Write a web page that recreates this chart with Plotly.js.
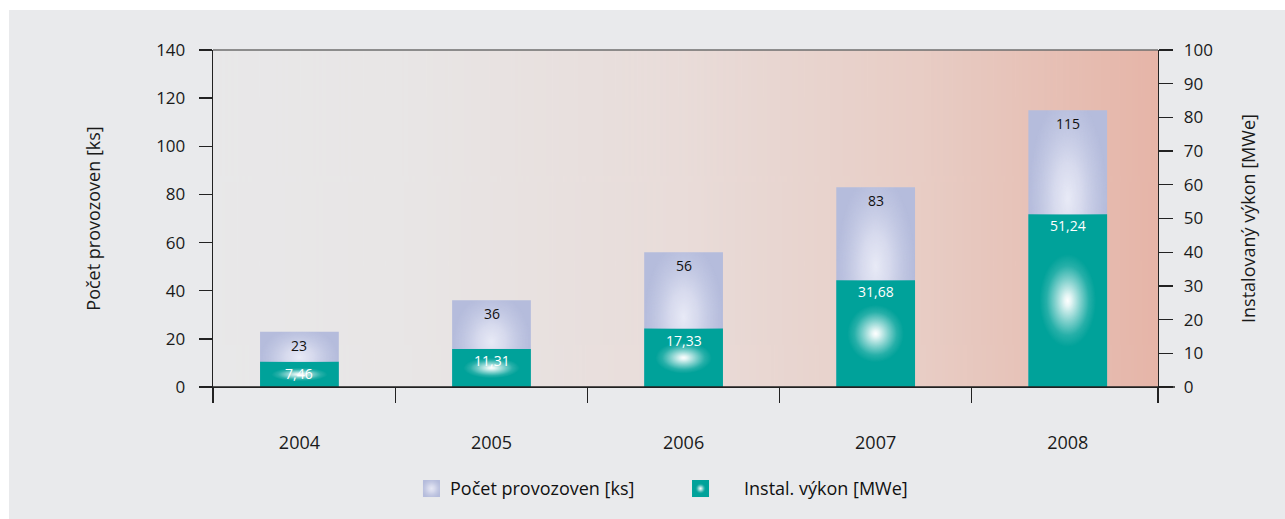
<!DOCTYPE html>
<html><head><meta charset="utf-8">
<script src="https://cdn.plot.ly/plotly-3.0.1.min.js"></script>
<style>html,body{margin:0;padding:0;background:#fff;}#chart{position:absolute;left:9px;top:10px;width:1276px;height:509px;}</style>
</head><body><div id="chart"></div>
<script>
// ---- data ----
const years = [2004, 2005, 2006, 2007, 2008];
const countValues = [23, 36, 56, 83, 115];
const powerValues = [7.46, 11.31, 17.33, 31.68, 51.24];
const leftTicks = [0, 20, 40, 60, 80, 100, 120, 140];
const rightTicks = [0, 10, 20, 30, 40, 50, 60, 70, 80, 90, 100];
const countName = 'Počet provozoven [ks]';
const powerName = 'Instal. výkon [MWe]';
const leftTitle = 'Počet provozoven [ks]';
const rightTitle = 'Instalovaný výkon [MWe]';

// ---- style ----
const FONT = '"Open Sans", "Noto Sans", "DejaVu Sans", sans-serif';
const AXC = '#222222';
const LAV = '#b5bcdc';
const TEAL = '#00a29a';
const BW = 0.41;
const xRange = [2003.55, 2008.47];
const leftMax = 140, rightMax = 100;

function fmt(v) { return v.toFixed(2).replace('.', ','); }

function bgImage() {
  const c = document.createElement('canvas'); c.width = 600; c.height = 4;
  const g = c.getContext('2d');
  const lg = g.createLinearGradient(0, 0, 600, 0);
  lg.addColorStop(0, '#e8e8e9');
  lg.addColorStop(0.2, '#e8e6e6');
  lg.addColorStop(0.5, '#e9dcd9');
  lg.addColorStop(0.75, '#e8cdc5');
  lg.addColorStop(1, '#e6b5a8');
  g.fillStyle = lg; g.fillRect(0, 0, 600, 4);
  return c.toDataURL();
}
function glowImage(cx, cy, rx, ry, stops, base) {
  const W = 200, H = 200;
  const c = document.createElement('canvas'); c.width = W; c.height = H;
  const g = c.getContext('2d');
  if (base) { g.fillStyle = base; g.fillRect(0, 0, W, H); }
  g.translate(cx * W, cy * H);
  g.scale(rx * W, ry * H);
  const rg = g.createRadialGradient(0, 0, 0, 0, 0, 1);
  stops.forEach(s => rg.addColorStop(s[0], s[1]));
  g.fillStyle = rg;
  g.fillRect(-20, -20, 40, 40);
  return c.toDataURL();
}
const tealStops = [
  [0, 'rgba(255,255,255,1)'], [0.12, 'rgba(255,255,255,0.9)'], [0.45, 'rgba(255,255,255,0.5)'],
  [0.75, 'rgba(255,255,255,0.15)'], [1, 'rgba(255,255,255,0)']];
const lavStops = [
  [0, 'rgba(232,234,246,1)'], [0.35, 'rgba(226,228,243,0.75)'], [0.7, 'rgba(215,219,238,0.35)'],
  [1, 'rgba(210,214,236,0)']];
const tealGlow = glowImage(0.5, 0.5, 0.36, 0.27, tealStops);
const lavGlow = glowImage(0.5, 0.85, 0.5, 1.0, lavStops);
const tealKey = glowImage(0.5, 0.5, 0.3, 0.3, tealStops, TEAL);
const lavKey = glowImage(0.5, 0.5, 0.6, 0.6, lavStops, LAV);

const traces = [
  { type: 'bar', name: countName, x: years, y: countValues, yaxis: 'y', width: BW,
    marker: { color: LAV }, hoverinfo: 'x+y', showlegend: false },
  { type: 'bar', name: powerName, x: years, y: powerValues, yaxis: 'y2', width: BW,
    marker: { color: TEAL }, hoverinfo: 'x+y', showlegend: false }
];

const images = [{ source: bgImage(), xref: 'paper', yref: 'paper', x: 0, y: 1, sizex: 1, sizey: 1,
  sizing: 'stretch', xanchor: 'left', yanchor: 'top', layer: 'below' }];
const annotations = [];
years.forEach((yr, i) => {
  const tealInLeft = powerValues[i] * leftMax / rightMax;
  images.push({ source: lavGlow, xref: 'x', yref: 'y', x: yr, xanchor: 'center', sizex: BW,
    y: countValues[i], yanchor: 'top', sizey: countValues[i] - tealInLeft, sizing: 'stretch', layer: 'above' });
  images.push({ source: tealGlow, xref: 'x', yref: 'y2', x: yr, xanchor: 'center', sizex: BW,
    y: powerValues[i], yanchor: 'top', sizey: powerValues[i], sizing: 'stretch', layer: 'above' });
  annotations.push({ x: yr, y: countValues[i], xref: 'x', yref: 'y', yanchor: 'top', yshift: -2,
    text: String(countValues[i]), showarrow: false, font: { family: FONT, size: 14, color: '#111' } });
  annotations.push({ x: yr, y: powerValues[i], xref: 'x', yref: 'y2', yanchor: 'top', yshift: 0,
    text: fmt(powerValues[i]), showarrow: false, font: { family: FONT, size: 14, color: '#fff' } });
});

// ---- legend (drawn as keys + texts) ----
const legendItems = [
  { name: countName, key: lavKey, kx: 0.2222, tx: 0.2487 },
  { name: powerName, key: tealKey, kx: 0.5069, tx: 0.5598 }
];
legendItems.forEach(it => {
  images.push({ source: it.key, xref: 'paper', yref: 'paper', x: it.kx, y: -0.276, sizex: 17 / 945, sizey: 17 / 337,
    xanchor: 'left', yanchor: 'top', sizing: 'stretch', layer: 'above' });
  annotations.push({ xref: 'paper', yref: 'paper', x: it.tx, y: -0.2997, xanchor: 'left', yanchor: 'middle',
    text: it.name, showarrow: false, font: { family: FONT, size: 18, color: '#111' } });
});

const boundaries = [xRange[0]].concat(years.slice(0, -1).map(y => y + 0.5), [xRange[1]]);

const layout = {
  width: 1276, height: 509,
  margin: { l: 204, r: 127, t: 40, b: 132 },
  paper_bgcolor: '#e9eaec', plot_bgcolor: 'rgba(0,0,0,0)',
  font: { family: FONT, size: 17, color: '#1a1a1a' },
  barmode: 'overlay', showlegend: false,
  xaxis: { range: xRange, tickmode: 'array', tickvals: years, ticktext: years.map(String),
    ticks: '', showgrid: false, zeroline: false, showline: true, linecolor: AXC, linewidth: 1.3,
    ticklabelstandoff: 39, tickfont: { size: 18 },
    minor: { tickmode: 'array', tickvals: boundaries, ticks: 'outside', ticklen: 15, tickcolor: AXC, tickwidth: 1.3, showgrid: false } },
  yaxis: { range: [0, leftMax], tickmode: 'array', tickvals: leftTicks, ticks: 'outside', ticklen: 13,
    tickcolor: AXC, tickwidth: 1.3, showline: true, linecolor: AXC, linewidth: 1.3, showgrid: false, zeroline: false,
    ticklabelstandoff: 10, tickfont: { size: 17 },
    title: { text: leftTitle, font: { size: 18 }, standoff: 50 } },
  yaxis2: { range: [0, rightMax], overlaying: 'y', side: 'right', tickmode: 'array', tickvals: rightTicks,
    ticks: 'outside', ticklen: 14, tickcolor: AXC, tickwidth: 1.3, showline: true, linecolor: AXC, linewidth: 1.3,
    showgrid: false, zeroline: false, ticklabelstandoff: 7, tickfont: { size: 17 },
    title: { text: rightTitle, font: { size: 18 }, standoff: 30 } },
  images: images,
  annotations: annotations,
  shapes: [
    { type: 'line', xref: 'paper', yref: 'paper', x0: 0, x1: 1, y0: 1, y1: 1, line: { color: '#6e6e6e', width: 1.5 } },
    { type: 'line', xref: 'paper', yref: 'paper', x0: -0.0127, x1: 1.018, y0: 0, y1: 0, line: { color: AXC, width: 1.3 } }
  ]
};
Plotly.newPlot('chart', traces, layout, { displayModeBar: false, staticPlot: true });
</script></body></html>
